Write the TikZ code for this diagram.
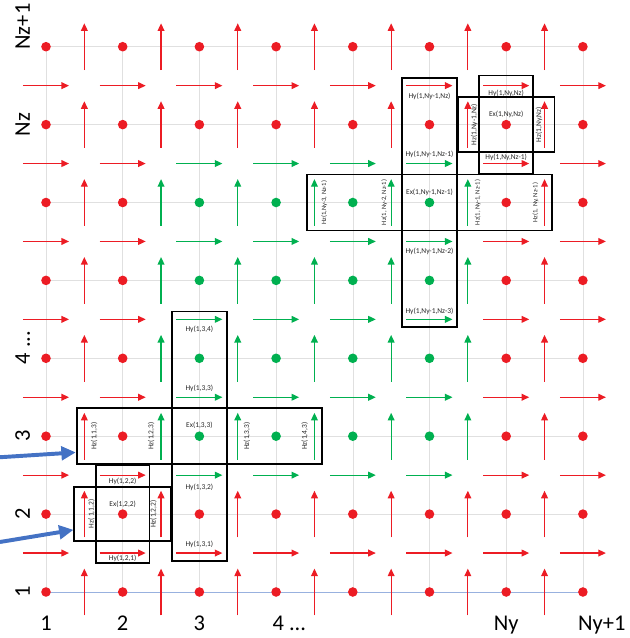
\documentclass[tikz,border=0pt]{standalone}
\usepackage{fontspec}
\setmainfont{Carlito}
\usetikzlibrary{arrows.meta,positioning,fit,calc}

\definecolor{fdred}{RGB}{236,28,36}
\definecolor{fdgreen}{RGB}{0,176,80}
\definecolor{fdblue}{RGB}{68,114,196}

\begin{document}
\begin{tikzpicture}[x=1.9175cm, y=1.9475cm,
  gridline/.style={draw=black!12, line width=0.4pt},
  axisline/.style={draw=fdblue!55, line width=0.5pt},
  field/.style={line width=0.9pt, -{Triangle[length=1.9mm, width=1.7mm]}},
  cellbox/.style={draw, line width=1.3pt, inner sep=0pt},
  lbl/.style={font=\fontsize{5.3}{6}\selectfont, inner sep=0pt, text=black!85},
  hzl/.style={lbl, rotate=90},
  hzs/.style={hzl, font=\fontsize{4.7}{5}\selectfont},
  axis/.style={font=\fontsize{16}{19}\selectfont, inner sep=0pt},
  pointer/.style={draw=fdblue, line width=2.8pt, -{Triangle[length=3.6mm, width=3.4mm]}}]
\useasboundingbox (0.4003,0.4095) rectangle (8.614,8.5995);

% grid
\foreach \k in {1,...,8} {
  \draw[gridline] (\k,1) -- (\k,8);
  \draw[gridline] (1,\k) -- (8,\k);
}
\draw[axisline] (1,1) -- (8,1);

% Ex dots, Hy and Hz arrows (interior ones green)
\foreach \i in {1,...,8}
  \foreach \j in {1,...,8} {
    \pgfmathtruncatemacro{\ine}{(\i>2)*(\i<7)*(\j>2)*(\j<7)}
    \pgfmathtruncatemacro{\iny}{(\i>2)*(\i<7)*(\j>1)*(\j<7)}
    \pgfmathtruncatemacro{\inz}{(\i>1)*(\i<7)*(\j>2)*(\j<7)}
    \ifnum\ine=1 \def\ce{fdgreen}\else\def\ce{fdred}\fi
    \ifnum\iny=1 \def\cy{fdgreen}\else\def\cy{fdred}\fi
    \ifnum\inz=1 \def\cz{fdgreen}\else\def\cz{fdred}\fi
    \fill[color=\ce] (\i,\j) circle (0.12cm);
    \ifnum\j<8 \draw[field, color=\cy] (\i-0.3,\j+0.5) -- (\i+0.3,\j+0.5); \fi
    \ifnum\i<8 \draw[field, color=\cz] (\i+0.5,\j-0.3) -- (\i+0.5,\j+0.3); \fi
  }

% boxes
\node[cellbox, fit={(1.37,1.65) (2.63,2.35)}] (ex122h) {};
\node[cellbox, fit={(1.65,1.37) (2.35,2.63)}] (ex122v) {};
\node[cellbox, fit={(1.4,2.64) (4.6,3.36)}] (ex133h) {};
\node[cellbox, fit={(2.64,1.4) (3.36,4.6)}] (ex133v) {};
\node[cellbox, fit={(4.4,5.64) (7.6,6.36)}] (exN1h) {};
\node[cellbox, fit={(5.64,4.4) (6.36,7.6)}] (exN1v) {};
\node[cellbox, fit={(6.37,6.65) (7.63,7.35)}] (exNNh) {};
\node[cellbox, fit={(6.65,6.37) (7.35,7.63)}] (exNNv) {};

% labels Ex(1,2,2)
\node[lbl, yshift=-4.5pt] (hy122) at (2,2.5) {Hy(1,2,2)};
\node[lbl, yshift=-4pt] (hy121) at (2,1.5) {Hy(1,2,1)};
\node[lbl, yshift=7pt] (ex122) at (2,2) {Ex(1,2,2)};
\node[hzl] (hz112) at ($(1.5,2)+(5pt,0)$) {Hz( 1,1,2)};
\node[hzl] (hz122) at ($(2.5,2)+(-5.5pt,0)$) {Hz(1,2,2)};

% labels Ex(1,3,3)
\node[lbl, yshift=-7pt] (hy134) at (3,4.5) {Hy(1,3,4)};
\node[lbl, yshift=6.5pt] (hy133) at (3,3.5) {Hy(1,3,3)};
\node[lbl, yshift=7.5pt] (ex133) at (3,3) {Ex(1,3,3)};
\node[lbl, yshift=-8.5pt] (hy132) at (3,2.5) {Hy(1,3,2)};
\node[lbl, yshift=6pt] (hy131) at (3,1.5) {Hy(1,3,1)};
\node[hzl] (hz113) at ($(1.5,3)+(7pt,0)$) {Hz(1,1,3)};
\node[hzl] (hz123) at ($(2.5,3)+(-7pt,0)$) {Hz(1,2,3)};
\node[hzl] (hz133) at ($(3.5,3)+(6.5pt,0)$) {Hz(1,3,3)};
\node[hzl] (hz143) at ($(4.5,3)+(-7pt,0)$) {Hz(1,4,3)};

% labels Ex(1,Ny-1,Nz-1)
\node[lbl, yshift=-7.5pt] (hyN1N) at (6,7.5) {Hy(1,Ny-1,Nz)};
\node[lbl, yshift=6.5pt] (hyN1N1) at (6,6.5) {Hy(1,Ny-1,Nz-1)};
\node[lbl, yshift=7pt] (exN1N1) at (6,6) {Ex(1,Ny-1,Nz-1)};
\node[lbl, yshift=-7pt] (hyN1N2) at (6,5.5) {Hy(1,Ny-1,Nz-2)};
\node[lbl, yshift=5.5pt] (hyN1N3) at (6,4.5) {Hy(1,Ny-1,Nz-3)};
\node[hzs] (hzN3N1) at ($(4.5,6)+(7pt,0)$) {Hz(1,Ny-3, Nz-1)};
\node[hzs] (hzN2N1) at ($(5.5,6)+(-5pt,0)$) {Hz(1, Ny-2, Nz-1)};
\node[hzs] (hzN1N1) at ($(6.5,6)+(7pt,0)$) {Hz(1, Ny-1, Nz-1)};
\node[hzs] (hzNN1) at ($(7.5,6)+(-6.5pt,0)$) {Hz(1, Ny, Nz-1)};

% labels Ex(1,Ny,Nz)
\node[lbl, yshift=-5.5pt] (hyNN) at (7,7.5) {Hy(1,Ny,Nz)};
\node[lbl, yshift=7pt] (exNN) at (7,7) {Ex(1,Ny,Nz)};
\node[lbl, yshift=4.5pt] (hyNN1) at (7,6.5) {Hy(1,Ny,Nz-1)};
\node[hzl] (hzN1N) at ($(6.5,7)+(4.5pt,0)$) {Hz(1,Ny-1,Nz)};
\node[hzl] (hzNN) at ($(7.5,7)+(-4pt,0)$) {Hz(1,Ny,Nz)};

% axis numbers
\node[axis, anchor=base] (ny1) at (1,0.5) {1};
\node[axis, anchor=base] (ny2) at (2,0.5) {2};
\node[axis, anchor=base] (ny3) at (3,0.5) {3};
\node[axis, anchor=base west] (ny4) at (3.95,0.5) {4 ...};
\node[axis, anchor=base] (nyN) at (7,0.5) {Ny};
\node[axis, anchor=base west] (nyN1) at (7.935,0.5) {Ny+1};
\node[axis, rotate=90, anchor=base] (nz1) at (0.79,1) {1};
\node[axis, rotate=90, anchor=base] (nz2) at (0.79,2) {2};
\node[axis, rotate=90, anchor=base] (nz3) at (0.79,3) {3};
\node[axis, rotate=90, anchor=base west] (nz4) at (0.79,3.92) {4 ...};
\node[axis, rotate=90, anchor=base] (nzN) at (0.79,7) {Nz};
\node[axis, rotate=90, anchor=base west] (nzN1) at (0.79,7.96) {Nz+1};

% pointers
\coordinate (p133) at (0.4003,2.73);
\coordinate (p122) at (0.4003,1.642);
\draw[pointer] (p133) -- ($(ex133h.south west)!0.22!(ex133h.north west)$);
\draw[pointer] (p122) -- ($(ex122h.south west)!0.22!(ex122h.north west)$);
\end{tikzpicture}
\end{document}
